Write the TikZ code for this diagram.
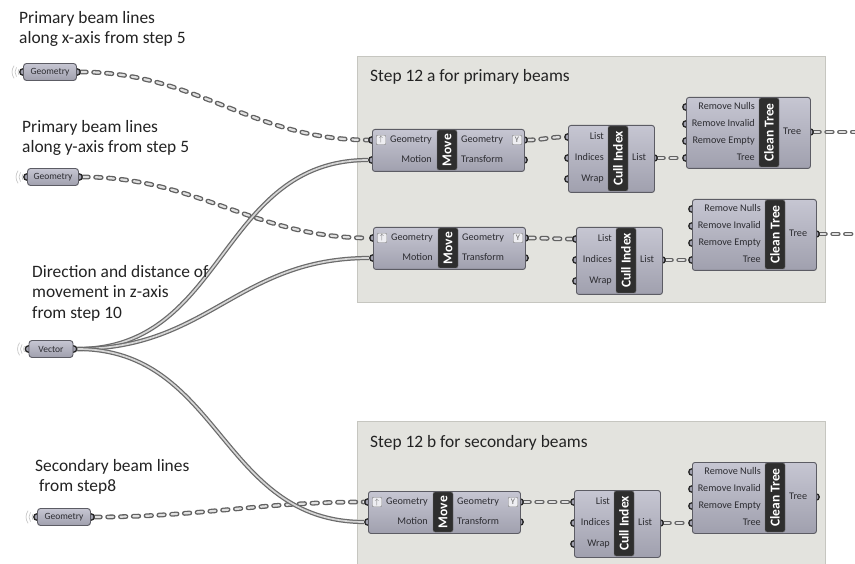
\documentclass[tikz,border=0pt]{standalone}
\usepackage{fontspec}
\setmainfont{Carlito}
\usetikzlibrary{positioning,calc}

\definecolor{groupfill}{RGB}{227,227,222}
\definecolor{groupline}{RGB}{198,198,192}
\definecolor{compline}{RGB}{92,92,100}
\definecolor{comptop}{RGB}{198,198,210}
\definecolor{compbot}{RGB}{160,160,174}
\definecolor{comptext}{RGB}{45,45,50}
\definecolor{labeltext}{RGB}{35,35,35}

\pgfdeclarelayer{back}
\pgfdeclarelayer{wires}
\pgfdeclarelayer{grips}
\pgfsetlayers{back,wires,grips,main}

\tikzset{
	group/.style={draw=groupline, fill=groupfill, line width=0.8},
	grouptitle/.style={anchor=base west, inner sep=0, text=labeltext, font=\fontsize{17.4}{21}\selectfont},
	note/.style={anchor=north west, align=left, inner sep=0, text=labeltext, font=\fontsize{17.4}{20.5}\selectfont},
	comp/.style={anchor=north west, draw=compline, top color=comptop, bottom color=compbot, rounded corners=2.5pt, line width=0.9, inner sep=0},
	param/.style={draw=compline, top color=comptop, bottom color=compbot, rounded corners=3pt, line width=0.9, inner sep=0, minimum height=17, text=comptext, font=\fontsize{9.5}{10}\selectfont},
	strip/.style={rotate=90, fill=black!82, draw=black!55, rounded corners=2pt, inner sep=0, minimum height=20, text=white, font=\bfseries\fontsize{13.5}{13.5}\selectfont},
	grip/.style={circle, draw=black!85, fill=compbot, line width=1.3, inner sep=0, minimum size=6.5},
	inport/.style={anchor=east, inner sep=0, text height=6.5, text depth=2, text=comptext, font=\fontsize{10.2}{11}\selectfont},
	outport/.style={anchor=west, inner sep=0, text height=6.5, text depth=2, text=comptext, font=\fontsize{10.2}{11}\selectfont},
	icon/.style={draw=black!50, fill=white!70!comptop, rounded corners=1pt, minimum size=9.5, inner sep=0, text=black!60, font=\fontsize{8.5}{8.5}\selectfont},
	tube/.style={draw=black!62, line width=4.8, line cap=round, dash pattern=on 5.5 off 7.3,
		postaction={draw=black!12, line width=2.2, line cap=round, dash pattern=on 5.5 off 7.3}},
	wire/.style={draw=black!58, line width=4.2, postaction={draw=black!16, line width=1.7}},
	emit/.style={draw=black!22, line width=0.7},
}

\begin{document}
\begin{tikzpicture}[x=1pt, y=-1pt]
	\useasboundingbox (0,0) rectangle (855,564);
	\begin{pgfonlayer}{back}
		\fill[white] (0,0) rectangle (855,564);
		\draw[group] (357,56) rectangle (825,302);
		\draw[group] (357,421) rectangle (825,580);
	\end{pgfonlayer}
	\node[grouptitle] (titleA) at (370,82) {Step 12 a for primary beams};
	\node[grouptitle] (titleB) at (370,447) {Step 12 b for secondary beams};

	% notes
	\node[note] (noteX) at (19,11) {Primary beam lines\\along x-axis from step 5};
	\node[note] (noteY) at (22,120) {Primary beam lines\\along y-axis from step 5};
	\node[note] (noteZ) at (32,265) {Direction and distance of\\movement in z-axis\\from step 10};
	\node[note] (noteS) at (35,459) {Secondary beam lines\\\hspace*{3.9pt}from step8};

	% input parameters
	\node[param, minimum width=53] (geo1) at (50,72) {Geometry};
	\node[param, minimum width=51] (geo2) at (53,177) {Geometry};
	\node[param, minimum width=44] (vec) at (51,349) {Vector};
	\node[param, minimum width=53] (geo3) at (64,517) {Geometry};
	\begin{pgfonlayer}{grips}
	\foreach \p in {geo1,geo2,vec,geo3}{
		\node[grip] (\p-in) at (\p.west) {};
		\node[grip] (\p-out) at (\p.east) {};
		\foreach \r in {5,8,11}
			\draw[emit] ($(\p-in)+(145:\r)$) arc[start angle=145, end angle=215, radius=\r];
	}
	\end{pgfonlayer}

	% Move -> Cull Index -> Clean Tree rows
	\foreach \i/\mx/\my/\cx/\cy/\tx/\ty in {1/372/129/568/125/686/97, 2/373/227/576/227/692/199, 3/368/491/574/490/692/462}{
		\node[comp, minimum width=152, minimum height=42] (move\i) at (\mx,\my) {};
		\node[strip, minimum width=40] (move\i-s) at (\mx+75,\my+21) {Move};
		\node[icon] (move\i-ia) at (\mx+9,\my+11) {$\uparrow$};
		\node[icon] (move\i-ib) at (\mx+145,\my+11) {Y};
		\node[inport] (move\i-lg) at (\mx+60,\my+11) {Geometry};
		\node[inport] (move\i-lm) at (\mx+60,\my+31) {Motion};
		\node[outport] (move\i-rg) at (\mx+89,\my+11) {Geometry};
		\node[outport] (move\i-rt) at (\mx+89,\my+31) {Transform};

		\node[comp, minimum width=86, minimum height=67] (cull\i) at (\cx,\cy) {};
		\node[strip, minimum width=65] (cull\i-s) at (\cx+50,\cy+33.5) {Cull Index};
		\foreach \lab/\dy/\n in {List/12/l, Indices/33/x, Wrap/54/w}
			\node[inport] (cull\i-txt\n) at (\cx+36,\cy+\dy) {\lab};
		\node[outport] (cull\i-txto) at (\cx+64,\cy+33) {List};

		\node[comp, minimum width=124, minimum height=71] (clean\i) at (\tx,\ty) {};
		\node[strip, minimum width=69] (clean\i-s) at (\tx+83,\ty+35.5) {Clean Tree};
		\foreach \lab/\dy/\n in {Remove Nulls/10/n, Remove Invalid/27/v, Remove Empty/44/e, Tree/61/t}
			\node[inport] (clean\i-txt\n) at (\tx+69,\ty+\dy) {\lab};
		\node[outport] (clean\i-txto) at (\tx+97,\ty+35) {Tree};

		\begin{pgfonlayer}{grips}
			\node[grip] (move\i-g) at (\mx,\my+11) {};
			\node[grip] (move\i-m) at (\mx,\my+31) {};
			\node[grip] (move\i-go) at (\mx+152,\my+11) {};
			\node[grip] (move\i-to) at (\mx+152,\my+31) {};
			\foreach \dy/\n in {12/l, 33/x, 54/w}
				\node[grip] (cull\i-\n) at (\cx,\cy+\dy) {};
			\node[grip] (cull\i-o) at (\cx+86,\cy+33) {};
			\foreach \dy/\n in {10/n, 27/v, 44/e, 61/t}
				\node[grip] (clean\i-\n) at (\tx,\ty+\dy) {};
			\node[grip] (clean\i-o) at (\tx+124,\ty+35) {};
		\end{pgfonlayer}
		\begin{pgfonlayer}{wires}
			\draw[tube] (move\i-go) to[out=0, in=180] (cull\i-l);
			\draw[tube] (cull\i-o) to[out=0, in=180] (clean\i-t);
		\end{pgfonlayer}
	}

	% connections from the inputs
	\begin{pgfonlayer}{wires}
		\draw[tube] (geo1-out) to[out=0, in=180] (move1-g);
		\draw[tube] (geo2-out) to[out=0, in=180] (move2-g);
		\draw[tube] (geo3-out) to[out=0, in=180] (move3-g);
		\foreach \j in {1,2,3}
			\draw[wire] (vec-out) to[out=0, in=180, looseness=1.1] (move\j-m);
		\coordinate (edge1) at (862,132);
		\coordinate (edge2) at (862,234);
		\draw[tube] (clean1-o) -- (edge1);
		\draw[tube] (clean2-o) -- (edge2);
	\end{pgfonlayer}
\end{tikzpicture}
\end{document}
